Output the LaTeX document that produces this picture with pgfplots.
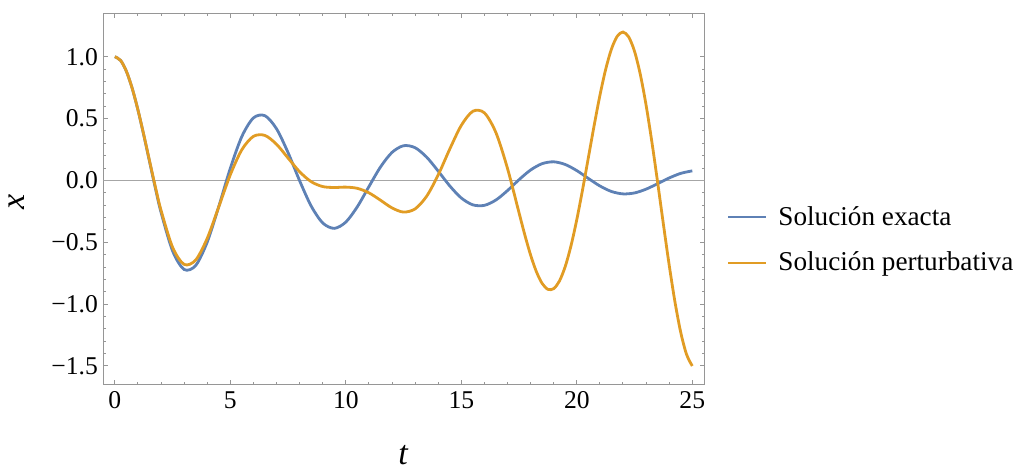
\documentclass[border=0pt]{standalone}
\usepackage{pgfplots}
\pgfplotsset{compat=1.18}
\usepackage{fontspec}
\setmainfont{Liberation Serif}
\definecolor{mblue}{RGB}{94,129,181}
\definecolor{morange}{RGB}{225,156,36}
\definecolor{framegray}{RGB}{150,150,150}
\begin{document}
\begin{tikzpicture}
\path[use as bounding box] (-51.65pt,-43.35pt) rectangle (460.35pt,192.15pt);
\begin{axis}[
  at={(0pt,0pt)}, anchor=south west,
  scale only axis, width=300.5pt, height=185.4pt,
  xmin=-0.5, xmax=25.52, ymin=-1.648, ymax=1.349,
  axis line style={framegray, line width=0.5pt},
  tick style={framegray, line width=0.5pt},
  tick align=inside,
  major tick length=2.2pt, minor tick length=1.3pt,
  xtick={0,5,10,15,20,25},
  xticklabels={0,5,10,15,20,25},
  ytick={-1.5,-1,-0.5,0,0.5,1},
  yticklabels={−1.5,−1.0,−0.5,0.0,0.5,1.0},
  minor x tick num=4, minor y tick num=4,
  ticklabel style={font=\fontsize{12.8}{14}\selectfont, text=black},
  yticklabel style={xshift=0.8pt},
  xlabel={\fontsize{17}{19}\selectfont\itshape t},
  ylabel={\fontsize{17}{19}\selectfont\itshape x},
  xlabel style={at={(axis description cs:0.4987,-0.19)}, anchor=center},
  ylabel style={at={(axis description cs:-0.144,0.492)}, anchor=center},
  legend style={at={(axis description cs:1.0365,0.389)}, anchor=west,
    draw=none, fill=none, font=\fontsize{13.6}{15}\selectfont,
    row sep=8pt, inner sep=0pt,
    /tikz/every odd column/.append style={column sep=3.5pt}},
  legend cell align=left,
  legend image code/.code={\draw[#1] (0pt,0pt) -- (19pt,0pt);},
]
\addplot[line width=0.5pt, color=framegray!85, forget plot] coordinates {(-0.6,0) (25.6,0)};
\addplot[mblue, line width=1.4pt, smooth] coordinates {
(0,1.00000) (0.25,0.96942) (0.5,0.88154) (0.75,0.74449) (1,0.56896) (1.25,0.36750)
(1.5,0.15358) (1.75,-0.05923) (2,-0.25806) (2.5,-0.57041)
(3,-0.72013) (3.5,-0.68783) (4,-0.49832) (4.5,-0.21077) (5,0.09856) (5.5,0.35546)
(6,0.50510) (6.5,0.52282) (7,0.41704) (7.5,0.22416) (8,-0.00259) (8.5,-0.20716)
(9,-0.34400) (9.5,-0.38767) (10,-0.33686) (10.5,-0.21240) (11,-0.05029) (11.5,0.10810)
(12,0.22624) (12.5,0.28042) (13,0.26411) (13.5,0.18782) (14,0.07503) (14.5,-0.04451)
(15,-0.14230) (15.5,-0.19763) (16,-0.20165) (16.5,-0.15831) (17,-0.08221) (17.5,0.00580)
(18,0.08409) (18.5,0.13533) (19,0.15017) (19.5,0.12861) (20,0.07914) (20.5,0.01593)
(21,-0.04497) (21.5,-0.08960) (22,-0.10910) (22.5,-0.10134) (23,-0.07070) (23.5,-0.02651)
(24,0.01966) (24.5,0.05685) (25,0.07725)
};
\addlegendentry{Solución exacta}
\addplot[morange, line width=1.4pt, smooth] coordinates {
(0,1.00000) (0.25,0.96943) (0.5,0.88164) (0.75,0.74498) (1,0.57042) (1.25,0.37081)
(1.5,0.15988) (1.75,-0.04865) (2,-0.24199) (2.5,-0.54101)
(3,-0.67888) (3.5,-0.64378) (4,-0.46786) (4.5,-0.21369) (5,0.04594) (5.5,0.24835)
(6,0.35613) (6.5,0.36332) (7,0.29187) (7.5,0.18046) (8,0.06984) (8.5,-0.01045)
(9,-0.04990) (9.5,-0.05738) (10,-0.05440) (10.5,-0.06419) (11,-0.10044) (11.5,-0.16005)
(12,-0.22243) (12.5,-0.25608) (13,-0.23022) (13.5,-0.12784) (14,0.04436) (14.5,0.25320)
(15,0.44488) (15.5,0.55880) (16,0.54581) (16.5,0.38538) (17,0.09647) (17.5,-0.26214)
(17.75,-0.44095) (18,-0.60336) (18.25,-0.73754) (18.5,-0.83285) (18.75,-0.88061)
(19,-0.87485) (19.25,-0.81284) (19.5,-0.69547) (19.75,-0.52737) (20,-0.31678)
(20.25,-0.07521) (20.5,0.18322) (20.75,0.44260) (21,0.68617) (21.25,0.89742)
(21.5,1.06122) (21.75,1.16488) (22,1.19906) (22.25,1.15859) (22.5,1.04292)
(22.75,0.85637) (23,0.60806) (23.25,0.31148) (23.5,-0.01623) (23.75,-0.35529)
(24,-0.68441) (24.25,-0.98218) (24.5,-1.22843) (24.75,-1.40562) (25,-1.50004)
};
\addlegendentry{Solución perturbativa}
\end{axis}
\end{tikzpicture}
\end{document}
